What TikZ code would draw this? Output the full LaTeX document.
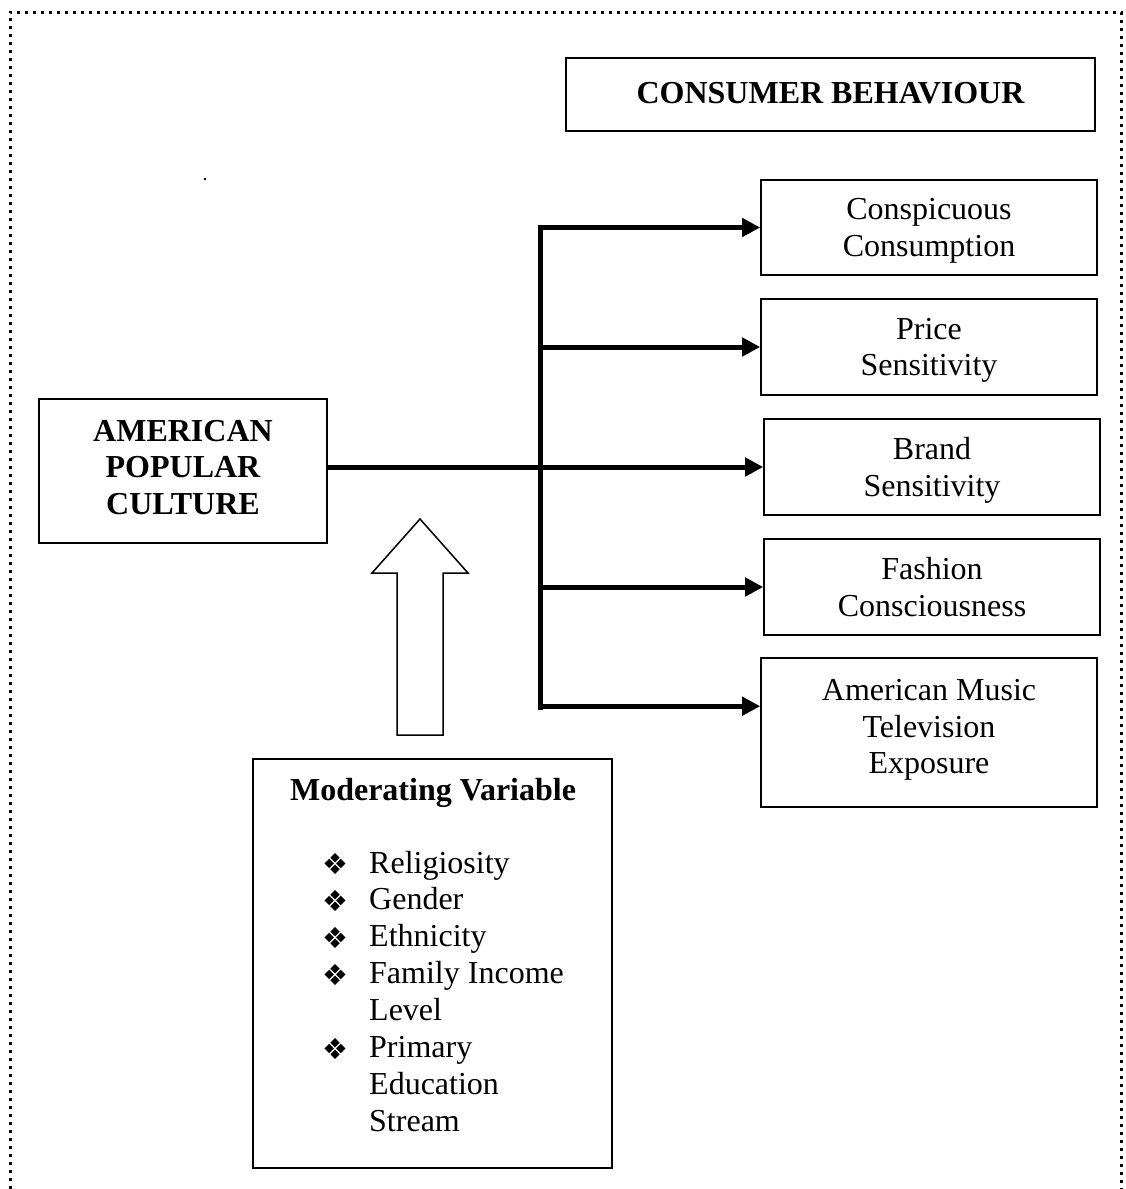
\documentclass[tikz,border=0pt]{standalone}
\usepackage{fontspec}
\setmainfont{Liberation Serif}
\newfontfamily\symfont{DejaVu Sans}
\usetikzlibrary{arrows.meta,calc}
\begin{document}
\begin{tikzpicture}[x=1pt,y=-1pt,
  box/.style={draw,line width=1.6pt,inner sep=0pt,align=center,
    font=\fontsize{32}{36.5}\selectfont},
  hbox/.style={box,font=\fontsize{32}{36.5}\selectfont\bfseries},
  conn/.style={line width=5pt,line join=miter,-{Triangle[length=18pt,width=18pt]}},
  itemtext/.style={inner sep=0pt,anchor=base west,font=\fontsize{32}{36.8}\selectfont},
  bul/.style={inner sep=0pt,anchor=center,font=\symfont\fontsize{29}{29}\selectfont},
  frame/.style={line width=3pt,dash pattern=on 3pt off 5pt},
  hollow/.style={draw,line width=1.5pt,line join=miter}]
\useasboundingbox (0,0) rectangle (1125,1189);
% dotted frame (open at the bottom)
\draw[frame] (10,1189) -- (10,12) -- (1121,12) -- (1121,1189);
\fill (205,179) circle (1.3pt);
% boxes
\node[hbox,minimum width=529pt,minimum height=73pt,text depth=4pt] (cb) at (830.5,94.5) {CONSUMER BEHAVIOUR};
\node[box,minimum width=336pt,minimum height=95pt,text depth=0pt] (consp) at (929,227.5) {Conspicuous\\Consumption};
\node[box,minimum width=336pt,minimum height=96pt,text depth=0pt] (price) at (929,347) {Price\\Sensitivity};
\node[box,minimum width=336pt,minimum height=96pt,text depth=0pt] (brand) at (932,467) {Brand\\Sensitivity};
\node[box,minimum width=336pt,minimum height=96pt,text depth=0pt] (fashion) at (932,587) {Fashion\\Consciousness};
\node[box,minimum width=336pt,minimum height=149pt,text depth=12pt] (music) at (929,732.5) {American Music\\Television\\Exposure};
\node[hbox,minimum width=288pt,minimum height=144pt,text depth=8pt] (apc) at (183,471) {AMERICAN\\POPULAR\\CULTURE};
\node[box,minimum width=359pt,minimum height=409pt] (mod) at (432.5,963.5) {};
\node[inner sep=0pt,anchor=base,font=\fontsize{32}{36.8}\selectfont\bfseries] (modtitle) at (433,800) {Moderating Variable};
\foreach \t [count=\i] in {Religiosity,Gender,Ethnicity,Family Income,Level,Primary,Education,Stream}
  \node[itemtext] (it\i) at (369,{873+(\i-1)*36.9}) {\t};
\foreach \i in {1,2,3,4,6}
  \node[bul] (b\i) at (335,{864+(\i-1)*36.9}) {❖};
% connectors
\coordinate (tx) at (540,0);
\coordinate (tbot) at (540,710);
\coordinate (mb) at ($(music.north west)+(0,49)$);
\draw[conn] (tbot) -- (tx |- consp.west) -- (consp.west);
\draw[conn] (tx |- price.west) -- (price.west);
\draw[conn] (apc.east |- brand.west) -- (brand.west);
\draw[conn] (tx |- fashion.west) -- (fashion.west);
\draw[conn] (tx |- mb) -- (mb);
% hollow moderating arrow
\coordinate (htip) at (420,519);
\draw[hollow] (htip) -- (468,573) -- (443,573) -- (443,735) -- (397,735) -- (397,573) -- (372,573) -- cycle;
\end{tikzpicture}
\end{document}
